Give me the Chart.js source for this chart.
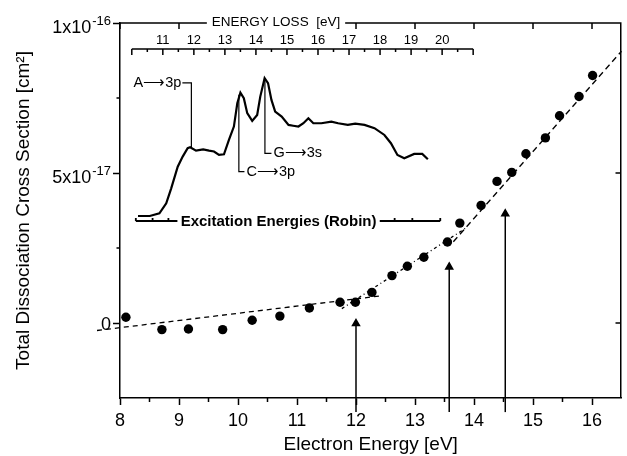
<!DOCTYPE html>
<html>
<head>
<meta charset="utf-8">
<script src="https://cdn.jsdelivr.net/npm/chart.js@4.4.1/dist/chart.umd.min.js"></script>
<style>
  html, body { margin: 0; padding: 0; background: #fff; }
</style>
</head>
<body>
<canvas id="chart" width="627" height="456"></canvas>
<script>
// measured points: electron energy [eV] vs cross section [1e-17 cm^2]
const electronEnergy = [8.10, 8.71, 9.16, 9.74, 10.24, 10.71, 11.21, 11.73, 11.99, 12.27, 12.61, 12.87,
  13.15, 13.55, 13.76, 14.12, 14.39, 14.64, 14.88, 15.21, 15.45, 15.78, 16.01];
const crossSection = [0.19, -0.22, -0.20, -0.22, 0.09, 0.23, 0.50, 0.69, 0.69, 1.02, 1.58, 1.89,
  2.19, 2.70, 3.33, 3.92, 4.72, 5.02, 5.64, 6.17, 6.91, 7.55, 8.25];

// straight-line fits
const lowFitX = [7.61, 12.40];
const lowFitY = [-0.25, 0.90];
const midFitX = [11.76, 13.85];
const midFitY = [0.48, 3.15];
const highFitX = [13.65, 16.50];
const highFitY = [2.71, 9.06];

// threshold arrows (x position, arrow head, foot)
const arrowX = [12.00, 13.58, 14.53];
const arrowHead = [-0.02, 1.87, 3.64];
const arrowFoot = -2.97;

// inset: energy loss spectrum (arbitrary intensity)
const lossEnergy = [10.20, 10.58, 10.89, 11.11, 11.27, 11.48, 11.64, 11.80, 11.88, 12.07, 12.30, 12.49,
  12.65, 12.81, 12.97, 13.13, 13.29, 13.40, 13.50, 13.61, 13.72, 13.88, 14.04, 14.14, 14.28, 14.39,
  14.50, 14.62, 14.83, 15.05, 15.20, 15.37, 15.53, 15.69, 15.85, 16.11, 16.43, 16.65, 16.96, 17.20,
  17.50, 17.82, 18.14, 18.35, 18.56, 18.78, 19.10, 19.36, 19.54];
const lossIntensity = [0, 0, 2.0, 9.2, 20.1, 35.8, 43.1, 49.2, 49.9, 47.4, 48.3, 47.4,
  46.8, 44.3, 44.8, 55.2, 64.9, 81.8, 89.5, 85.5, 74.6, 69.0, 73.3, 86.6, 100, 96.4,
  84.2, 75.7, 72.1, 66.1, 65.5, 64.9, 67.3, 70.9, 67.3, 67.3, 68.5, 67.3, 66.1, 67.0,
  66.1, 63.7, 58.8, 52.8, 44.3, 41.9, 45.0, 45.0, 41.2];

// inset peak assignments
const peakNames = ['A\u27F63p', 'C\u27F63p', 'G\u27F63s'];
const peakEnergy = [11.92, 13.45, 14.29];
const peakFrom = [50.0, 88.0, 100.0];
const peakLevel = [96.6, 32.2, 45.5];
const peakStubEnd = [11.63, 13.63, 14.50];

// Robin excitation energies bar
const robinLeft = [10.13, 11.47];
const robinRight = [17.99, 19.94];
const robinTicks = [10.13, 10.67, 11.18, 18.47, 19.04, 19.94];
const robinLevel = -3.6;

// axes
const xTickValues = [8, 9, 10, 11, 12, 13, 14, 15, 16];
const xMinorTicks = [8.5, 9.5, 10.5, 11.5, 12.5, 13.5, 14.5, 15.5];
const yTickValues = [0, 5, 10];
const yTickBase = ['0', '5x10', '1x10'];
const yTickExp = ['', '-17', '-16'];
const yMinorTicks = [2.5, 7.5];
const lossTicks = [10, 11, 12, 13, 14, 15, 16, 17, 18, 19, 20, 21];
const lossLabels = ['11', '12', '13', '14', '15', '16', '17', '18', '19', '20'];
const lossAxisLevel = 121.1;

const FONT = "'Liberation Sans', Arial, sans-serif";
Chart.defaults.font.family = FONT;
Chart.defaults.color = '#000';

const pts = (xs, ys) => xs.map((v, i) => ({ x: v, y: ys[i] }));

const lineSet = (data, extra) => Object.assign({
  data: data,
  showLine: true,
  borderColor: '#000',
  borderWidth: 1.3,
  pointRadius: 0,
  fill: false,
  clip: false
}, extra);

const datasets = [
  {
    data: pts(electronEnergy, crossSection),
    backgroundColor: '#000',
    borderWidth: 0,
    pointRadius: 4.7
  },
  lineSet(pts(lowFitX, lowFitY), { borderDash: [5, 4] }),
  lineSet(pts(midFitX, midFitY), { borderDash: [3, 3, 1, 3] }),
  lineSet(pts(highFitX, highFitY), { borderDash: [6, 4] }),
  lineSet(pts(lossEnergy, lossIntensity), { xAxisID: 'xi', yAxisID: 'yi', borderWidth: 2.2 })
];

arrowX.forEach((v, i) => {
  datasets.push(lineSet([{ x: v, y: arrowFoot }, { x: v, y: arrowHead[i] }], {
    borderWidth: 1.5,
    pointStyle: 'triangle',
    pointRadius: [0, 4],
    backgroundColor: '#000'
  }));
});

peakNames.forEach((n, i) => {
  datasets.push(lineSet([
    { x: peakEnergy[i], y: peakFrom[i] },
    { x: peakEnergy[i], y: peakLevel[i] },
    { x: peakStubEnd[i], y: peakLevel[i] }
  ], { xAxisID: 'xi', yAxisID: 'yi', borderWidth: 1.2 }));
});

const framePlugin = {
  id: 'frame',
  afterDatasetsDraw(chart) {
    const { ctx, chartArea: a, scales } = chart;
    const { x, y, xi, yi } = scales;
    ctx.save();
    ctx.strokeStyle = '#000';
    ctx.fillStyle = '#000';
    ctx.lineWidth = 1.5;

    // top and right frame with inward ticks, minor outward ticks
    ctx.beginPath();
    ctx.moveTo(a.left, a.top);
    ctx.lineTo(a.right - 0.75, a.top);
    ctx.lineTo(a.right - 0.75, a.bottom);
    xTickValues.forEach(v => {
      const px = x.getPixelForValue(v);
      ctx.moveTo(px, a.top);
      ctx.lineTo(px, a.top + 6);
    });
    yTickValues.forEach(v => {
      const py = y.getPixelForValue(v);
      ctx.moveTo(a.right, py);
      ctx.lineTo(a.right - 6, py);
    });
    xMinorTicks.forEach(v => {
      const px = x.getPixelForValue(v);
      ctx.moveTo(px, a.bottom);
      ctx.lineTo(px, a.bottom + 4);
    });
    yMinorTicks.forEach(v => {
      const py = y.getPixelForValue(v);
      ctx.moveTo(a.left, py);
      ctx.lineTo(a.left - 3.5, py);
    });
    ctx.stroke();

    // y tick labels with superscript exponents
    ctx.textAlign = 'right';
    ctx.textBaseline = 'alphabetic';
    const lx = a.left - 9;
    yTickValues.forEach((v, i) => {
      const py = y.getPixelForValue(v);
      if (!yTickExp[i]) {
        ctx.font = '18px ' + FONT;
        ctx.fillText(yTickBase[i], lx, py + 6.5);
        return;
      }
      ctx.font = '13px ' + FONT;
      const ew = ctx.measureText(yTickExp[i]).width;
      ctx.fillText(yTickExp[i], lx, py + 1.5);
      ctx.font = '18px ' + FONT;
      ctx.fillText(yTickBase[i], lx - ew - 1, py + 10);
    });

    // label sitting on the top frame
    ctx.font = '13.5px ' + FONT;
    ctx.textAlign = 'center';
    ctx.textBaseline = 'middle';
    const topLabel = 'ENERGY LOSS  [eV]';
    const tw = ctx.measureText(topLabel).width;
    const cx = a.left + 156;
    ctx.fillStyle = '#fff';
    ctx.fillRect(cx - tw / 2 - 5, a.top - 7, tw + 10, 14);
    ctx.fillStyle = '#000';
    ctx.fillText(topLabel, cx, a.top - 1);

    // inset energy loss axis
    const iy = yi.getPixelForValue(lossAxisLevel);
    ctx.beginPath();
    ctx.moveTo(xi.getPixelForValue(lossTicks[0]), iy);
    ctx.lineTo(xi.getPixelForValue(lossTicks[lossTicks.length - 1]), iy);
    lossTicks.forEach((v, i) => {
      const px = xi.getPixelForValue(v);
      ctx.moveTo(px, iy);
      ctx.lineTo(px, iy + 6);
      if (i < lossTicks.length - 1) {
        const pm = xi.getPixelForValue(v + 0.5);
        ctx.moveTo(pm, iy);
        ctx.lineTo(pm, iy + 3);
      }
    });
    ctx.stroke();
    ctx.font = '13px ' + FONT;
    lossLabels.forEach(t => {
      ctx.fillText(t, xi.getPixelForValue(Number(t)), iy - 9);
    });

    // Robin excitation energies bar
    const ry = yi.getPixelForValue(robinLevel);
    ctx.lineWidth = 1.8;
    ctx.beginPath();
    [robinLeft, robinRight].forEach(seg => {
      ctx.moveTo(xi.getPixelForValue(seg[0]), ry);
      ctx.lineTo(xi.getPixelForValue(seg[1]), ry);
    });
    robinTicks.forEach(v => {
      const px = xi.getPixelForValue(v);
      ctx.moveTo(px, ry);
      ctx.lineTo(px, ry - 3);
    });
    ctx.stroke();
    ctx.font = 'bold 15px ' + FONT;
    const rx = (xi.getPixelForValue(robinLeft[1]) + xi.getPixelForValue(robinRight[0])) / 2;
    ctx.fillText('Excitation Energies (Robin)', rx, ry + 1);

    // peak assignment labels
    ctx.font = '14.5px ' + FONT;
    peakNames.forEach((n, i) => {
      const left = peakStubEnd[i] < peakEnergy[i];
      ctx.textAlign = left ? 'right' : 'left';
      const px = xi.getPixelForValue(peakStubEnd[i]) + (left ? -1 : 2);
      ctx.fillText(n, px, yi.getPixelForValue(peakLevel[i]));
    });
    ctx.restore();
  }
};

new Chart(document.getElementById('chart'), {
  type: 'scatter',
  data: { datasets: datasets },
  options: {
    responsive: false,
    animation: false,
    devicePixelRatio: 1,
    layout: { padding: { top: 23, right: 0.5, left: 0, bottom: 0 } },
    plugins: { legend: { display: false }, tooltip: { enabled: false } },
    scales: {
      x: {
        type: 'linear',
        position: 'bottom',
        min: 8,
        max: 16.5,
        afterBuildTicks: s => { s.ticks = xTickValues.map(v => ({ value: v })); },
        afterFit: s => { s.height = 58; },
        grid: { drawOnChartArea: false, tickLength: 7, tickWidth: 1.5, color: '#000' },
        border: { color: '#000', width: 1.5 },
        ticks: { font: { size: 18 }, padding: 5, maxRotation: 0 },
        title: { display: true, text: 'Electron Energy [eV]', font: { size: 19 }, padding: { top: 0, bottom: 0 } }
      },
      y: {
        type: 'linear',
        position: 'left',
        min: -2.5,
        max: 10,
        afterBuildTicks: s => { s.ticks = yTickValues.map(v => ({ value: v })); },
        afterFit: s => { s.width = 120; },
        grid: { drawOnChartArea: false, tickLength: 7, tickWidth: 1.5, color: '#000' },
        border: { color: '#000', width: 1.5 },
        ticks: { display: false },
        title: { display: true, text: 'Total Dissociation Cross Section [cm\u00B2]', font: { size: 19 }, padding: { top: 12, bottom: 0 } }
      },
      xi: { type: 'linear', display: false, min: 9.62, max: 25.78 },
      yi: { type: 'linear', display: false, min: -132, max: 140 }
    }
  },
  plugins: [framePlugin]
});
</script>
</body>
</html>
